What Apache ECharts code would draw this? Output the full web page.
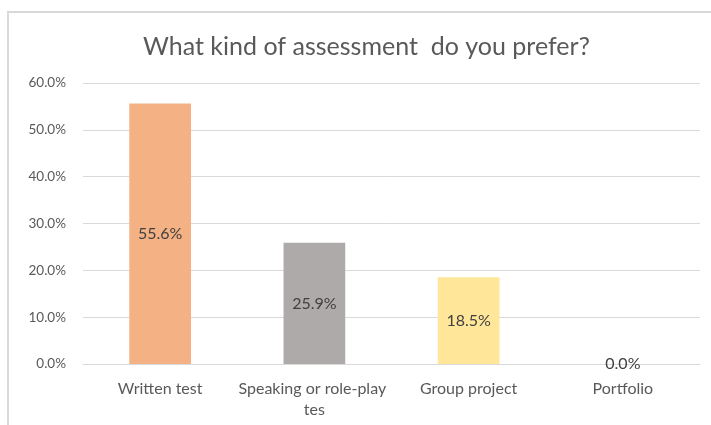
<!DOCTYPE html>
<html>
<head>
<meta charset="utf-8">
<script src="https://cdn.jsdelivr.net/npm/echarts@6/dist/echarts.min.js"></script>
<style>
  html, body { margin: 0; padding: 0; background: #fff; }
  .frame { position: absolute; left: 7px; top: 11px; width: 704px; height: 414px;
           border-left: 2px solid #d9d9d9; border-top: 2px solid #d9d9d9; box-sizing: border-box; }
  .bar { position: absolute; left: 0; top: 0; width: 711px; height: 425px; }
</style>
</head>
<body>
<div class="frame"></div>
<div class="bar"></div>
<script>
// 数据
var categories = ['Written test', 'Speaking or role-play tes', 'Group project', 'Portfolio']
var values = [55.6, 25.9, 18.5, 0.0]
var barColors = ['#f4b183', '#aeaaaa', '#ffe699', '#9dc3e6']
var yTicks = [0, 10, 20, 30, 40, 50, 60]

var myCharts = echarts.init(document.querySelector('.bar'))

var font = 'Lato, "Open Sans", sans-serif'

var option = {
    title: {
        text: 'What kind of assessment  do you prefer?',
        left: 138,
        top: 29,
        textStyle: {
            color: '#595959',
            fontSize: 25,
            fontWeight: 'normal',
            fontFamily: font
        }
    },
    grid: {
        left: 83,
        right: 11,
        top: 83,
        bottom: 61
    },
    xAxis: {
        type: 'category',
        data: categories,
        axisTick: { show: false },
        axisLine: { lineStyle: { color: '#d9d9d9', width: 1 } },
        axisLabel: {
            color: '#595959',
            fontSize: 16,
            fontFamily: font,
            margin: 14,
            width: 160,
            overflow: 'break',
            interval: 0,
            lineHeight: 21
        }
    },
    yAxis: {
        type: 'value',
        min: yTicks[0],
        max: yTicks[yTicks.length - 1],
        interval: 10,
        axisLabel: {
            color: '#595959',
            fontSize: 13.5,
            fontFamily: font,
            margin: 17,
            formatter: function (v) { return v.toFixed(1) + '%' }
        },
        axisLine: { show: false },
        axisTick: { show: false },
        splitLine: { lineStyle: { color: '#d9d9d9', width: 1 } }
    },
    series: [
        {
            type: 'bar',
            barWidth: '40%',
            data: values.map(function (v, i) {
                return { value: v, itemStyle: { color: barColors[i] } }
            }),
            label: {
                show: true,
                position: 'inside',
                color: '#404040',
                fontSize: 16,
                fontFamily: font,
                formatter: function (p) { return p.value.toFixed(1) + '%' }
            }
        }
    ]
}

myCharts.setOption(option)

window.addEventListener('resize', function () {
    myCharts.resize()
})
</script>
</body>
</html>
